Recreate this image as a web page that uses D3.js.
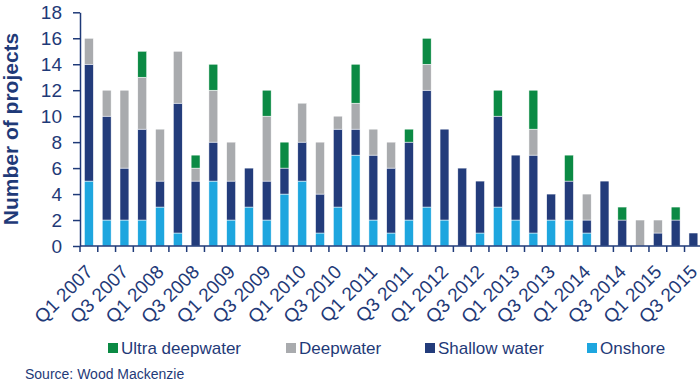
<!DOCTYPE html>
<html>
<head>
<meta charset="utf-8">
<script src="https://cdn.jsdelivr.net/npm/d3@7"></script>
<style>
    body { margin: 0; background: #fff; }
    text { font-family: "Liberation Sans", Arial, sans-serif; fill: #1f3a78; }
</style>
</head>
<body>
<div id="main"></div>
<script>
const quarters = [
    "Q1 2007", "Q2 2007", "Q3 2007", "Q4 2007",
    "Q1 2008", "Q2 2008", "Q3 2008", "Q4 2008",
    "Q1 2009", "Q2 2009", "Q3 2009", "Q4 2009",
    "Q1 2010", "Q2 2010", "Q3 2010", "Q4 2010",
    "Q1 2011", "Q2 2011", "Q3 2011", "Q4 2011",
    "Q1 2012", "Q2 2012", "Q3 2012", "Q4 2012",
    "Q1 2013", "Q2 2013", "Q3 2013", "Q4 2013",
    "Q1 2014", "Q2 2014", "Q3 2014", "Q4 2014",
    "Q1 2015", "Q2 2015", "Q3 2015"
];

// number of projects per quarter, by water depth
const onshore = [5, 2, 2, 2, 3, 1, 0, 5, 2, 3, 2, 4, 5, 1, 3, 7, 2, 1, 2, 3, 2, 0, 1, 3, 2, 1, 2, 2, 1, 0, 0, 0, 0, 0, 0];
const shallow = [9, 8, 4, 7, 2, 10, 5, 3, 3, 3, 3, 2, 3, 3, 6, 2, 5, 5, 6, 9, 7, 6, 4, 7, 5, 6, 2, 3, 1, 5, 2, 0, 1, 2, 1];
const deep    = [2, 2, 6, 4, 4, 4, 1, 4, 3, 0, 5, 0, 3, 4, 1, 2, 2, 2, 0, 2, 0, 0, 0, 0, 0, 2, 0, 0, 2, 0, 0, 2, 1, 0, 0];
const ultra   = [0, 0, 0, 2, 0, 0, 1, 2, 0, 0, 2, 2, 0, 0, 0, 3, 0, 0, 1, 2, 0, 0, 0, 2, 0, 3, 0, 2, 0, 0, 1, 0, 0, 1, 0];

const yTicks = [0, 2, 4, 6, 8, 10, 12, 14, 16, 18];

const series = [
    { key: "Onshore", values: onshore, color: "#1ea6df" },
    { key: "Shallow water", values: shallow, color: "#233c7b" },
    { key: "Deepwater", values: deep, color: "#a9abae" },
    { key: "Ultra deepwater", values: ultra, color: "#0b8a44" }
];
const legendOrder = ["Ultra deepwater", "Deepwater", "Shallow water", "Onshore"];

const ctx = {
    w: 700,
    h: 384,
    left: 80,
    right: 702.3,
    top: 12.3,
    bottom: 246,
    axisColor: "#1f3a78"
};

function createViz() {
    let svg = d3.select("#main").append("svg")
        .attr("width", ctx.w)
        .attr("height", ctx.h);

    let rows = quarters.map((q, i) => {
        let r = { q: q };
        series.forEach(s => r[s.key] = s.values[i]);
        return r;
    });
    let stacked = d3.stack().keys(series.map(s => s.key))(rows);

    let x = d3.scaleBand()
        .domain(quarters)
        .range([ctx.left, ctx.right])
        .paddingInner(0.5)
        .paddingOuter(0.25);
    let step = x.step();

    let y = d3.scaleLinear()
        .domain([0, 18])
        .range([ctx.bottom, ctx.top]);

    // bars
    let layers = svg.append("g").attr("id", "bars")
        .selectAll("g")
        .data(stacked)
        .enter().append("g")
        .attr("fill", (d, i) => series[i].color);

    layers.selectAll("rect")
        .data(d => d.filter(p => p[1] - p[0] > 0))
        .enter().append("rect")
        .attr("x", d => x(d.data.q))
        .attr("y", d => y(d[1]))
        .attr("width", x.bandwidth())
        .attr("height", d => y(d[0]) - y(d[1]))
        .attr("stroke", "#fff")
        .attr("stroke-width", 0.5);

    // y axis
    let yAxis = svg.append("g")
        .attr("transform", `translate(${ctx.left},0)`)
        .call(d3.axisLeft(y).tickValues(yTicks).tickSize(7).tickPadding(11).tickSizeOuter(0));
    yAxis.select(".domain").attr("stroke", ctx.axisColor).attr("stroke-width", 1.5);
    yAxis.selectAll(".tick line").attr("stroke", ctx.axisColor).attr("stroke-width", 1.5);
    yAxis.selectAll(".tick text")
        .style("font-family", "Liberation Sans, Arial, sans-serif")
        .style("font-size", "19px")
        .attr("fill", ctx.axisColor);

    // x axis
    let xAxis = svg.append("g").attr("id", "xaxis");
    xAxis.append("line")
        .attr("x1", ctx.left).attr("x2", ctx.right)
        .attr("y1", ctx.bottom).attr("y2", ctx.bottom)
        .attr("stroke", ctx.axisColor).attr("stroke-width", 1.5);
    xAxis.selectAll(".xtick")
        .data(quarters.concat(["end"]))
        .enter().append("line")
        .attr("class", "xtick")
        .attr("x1", (d, i) => ctx.left + i * step)
        .attr("x2", (d, i) => ctx.left + i * step)
        .attr("y1", ctx.bottom).attr("y2", ctx.bottom + 6)
        .attr("stroke", ctx.axisColor).attr("stroke-width", 1.5);
    xAxis.selectAll(".xlabel")
        .data(quarters.filter((d, i) => i % 2 == 0))
        .enter().append("text")
        .attr("class", "xlabel")
        .attr("transform", d => `translate(${x(d) + x.bandwidth() / 2 + 5},273) rotate(-45)`)
        .attr("text-anchor", "end")
        .style("font-size", "19px")
        .text(d => d);

    // y title
    svg.append("text")
        .attr("transform", `translate(18,129) rotate(-90)`)
        .attr("text-anchor", "middle")
        .style("font-size", "21px")
        .style("font-weight", "bold")
        .text("Number of projects");

    // legend
    let legendX = [108, 286, 425, 587];
    let legend = svg.append("g").attr("id", "legend")
        .selectAll("g")
        .data(legendOrder)
        .enter().append("g")
        .attr("transform", (d, i) => `translate(${legendX[i]},343)`);
    legend.append("rect")
        .attr("width", 10).attr("height", 10)
        .attr("fill", d => series.find(s => s.key == d).color);
    legend.append("text")
        .attr("x", 13).attr("y", 11)
        .style("font-size", "17px")
        .text(d => d);

    // source
    svg.append("text")
        .attr("x", 25).attr("y", 379)
        .style("font-size", "14px")
        .text("Source: Wood Mackenzie");
}

createViz();
</script>
</body>
</html>
